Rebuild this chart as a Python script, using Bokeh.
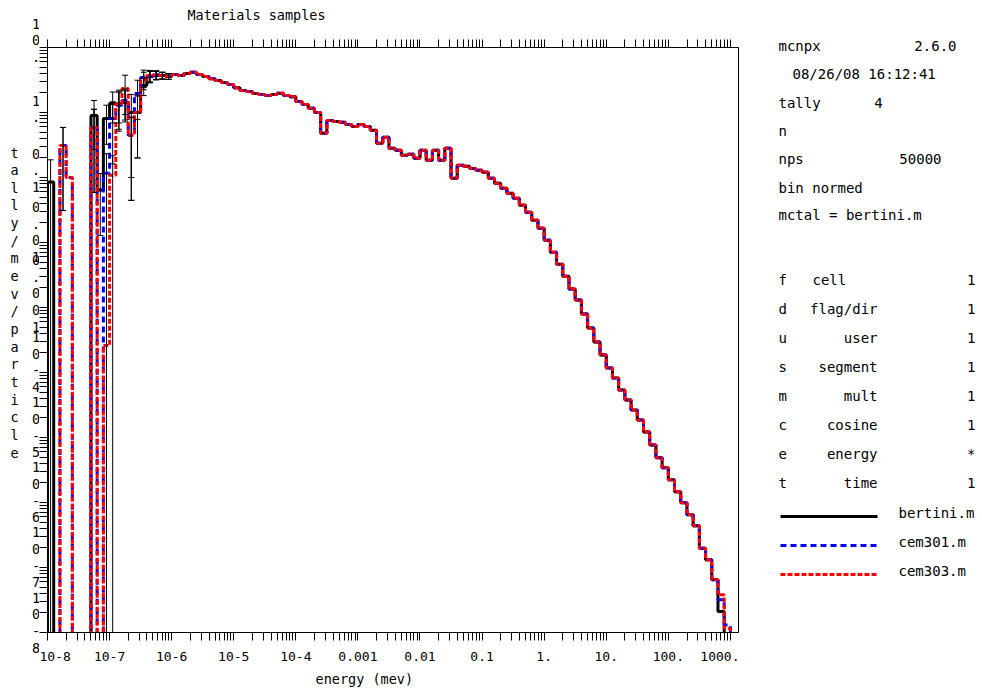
import numpy as np
from bokeh.plotting import figure
from bokeh.layouts import row, column
from bokeh.models import (FixedTicker, LogAxis, Range1d, ColumnDataSource, Title,
                          CustomJSTickFormatter)
from bokeh.core.properties import value
from bokeh.embed import file_html
from bokeh.resources import INLINE

# ---------------------------------------------------------------------------
# Tally data: neutron flux per MeV per source particle, 10 log bins / decade
# ---------------------------------------------------------------------------
energy_edges = 10.0 ** (np.arange(-80, 31) / 10.0)      # MeV, 1e-8 .. 1e3

bertini = [
    0.085, 0, 0, 0, 0, 0, 0, 0.90, 0.064, 0.81,
    1.38, 1.38, 1.43, 1.0, 1.0, 2.60, 3.58, 3.72, 3.72, 3.58,
    3.84, 3.72, 3.98, 4.15, 3.84, 3.58, 3.30, 3.11, 2.90, 2.70,
    2.40, 2.18, 2.10, 1.96, 1.90, 1.83, 1.90, 1.98, 1.83, 1.75,
    1.48, 1.33, 1.16, 1.0, 0.478, 0.756, 0.73, 0.705, 0.656, 0.611,
    0.656, 0.611, 0.531, 0.335, 0.415, 0.281, 0.262, 0.219, 0.227, 0.197,
    0.262, 0.184, 0.262, 0.184, 0.281, 0.0973, 0.154, 0.149, 0.138, 0.129,
    0.120, 0.0973, 0.0815, 0.0683, 0.0572, 0.0479, 0.0374, 0.0292, 0.0220, 0.0166,
    0.0108, 0.0071, 0.00464, 0.00303, 0.00192, 0.0013, 0.000793, 0.000483, 0.000294, 0.000186,
    1.17e-4, 8.24e-5, 5.38e-5, 3.78e-5, 2.65e-5, 1.86e-5, 1.22e-5, 7.69e-6, 4.86e-6, 3.41e-6,
    2.23e-6, 1.46e-6, 9.89e-7, 6.47e-7, 4.39e-7, 1.97e-7, 1.32e-7, 6.5e-8, 2.1e-8, 0,
]

cem301 = [
    0, 0, 0.31, 0.10, 0, 0, 0, 0.59, 0, 0.116,
    0.81, 1.29, 1.53, 0.445, 1.96, 3.45, 3.60, 3.80, 3.70, 3.60,
    3.84, 3.72, 3.98, 4.15, 3.84, 3.58, 3.30, 3.11, 2.90, 2.70,
    2.40, 2.18, 2.10, 1.96, 1.90, 1.83, 1.90, 1.98, 1.83, 1.75,
    1.48, 1.33, 1.16, 1.0, 0.478, 0.756, 0.73, 0.705, 0.656, 0.611,
    0.656, 0.611, 0.531, 0.335, 0.415, 0.281, 0.262, 0.219, 0.227, 0.197,
    0.262, 0.184, 0.262, 0.184, 0.281, 0.0973, 0.154, 0.149, 0.138, 0.129,
    0.120, 0.0973, 0.0815, 0.0683, 0.0572, 0.0479, 0.0374, 0.0292, 0.0220, 0.0166,
    0.0108, 0.0071, 0.00464, 0.00303, 0.00192, 0.0013, 0.000793, 0.000483, 0.000294, 0.000186,
    1.17e-4, 8.24e-5, 5.38e-5, 3.78e-5, 2.65e-5, 1.86e-5, 1.22e-5, 7.69e-6, 4.86e-6, 3.41e-6,
    2.23e-6, 1.46e-6, 9.89e-7, 6.47e-7, 4.39e-7, 1.97e-7, 1.32e-7, 6.5e-8, 3.2e-8, 1.3e-8,
]

cem303 = [
    0, 0, 0.31, 0.10, 0, 0, 0, 0.59, 0, 2.6e-4,
    0.108, 1.38, 2.34, 0.445, 1.0, 3.20, 3.70, 3.80, 3.70, 3.60,
    3.84, 3.72, 3.98, 4.15, 3.84, 3.58, 3.30, 3.11, 2.90, 2.70,
    2.40, 2.18, 2.10, 1.96, 1.90, 1.83, 1.90, 1.98, 1.83, 1.75,
    1.48, 1.33, 1.16, 1.0, 0.478, 0.756, 0.73, 0.705, 0.656, 0.611,
    0.656, 0.611, 0.531, 0.335, 0.415, 0.281, 0.262, 0.219, 0.227, 0.197,
    0.262, 0.184, 0.262, 0.184, 0.281, 0.0973, 0.154, 0.149, 0.138, 0.129,
    0.120, 0.0973, 0.0815, 0.0683, 0.0572, 0.0479, 0.0374, 0.0292, 0.0220, 0.0166,
    0.0108, 0.0071, 0.00464, 0.00303, 0.00192, 0.0013, 0.000793, 0.000483, 0.000294, 0.000186,
    1.17e-4, 8.24e-5, 5.38e-5, 3.78e-5, 2.65e-5, 1.86e-5, 1.22e-5, 7.69e-6, 4.86e-6, 3.41e-6,
    2.23e-6, 1.46e-6, 9.89e-7, 6.47e-7, 4.39e-7, 1.97e-7, 1.32e-7, 6.5e-8, 3.8e-8, 1.15e-8,
]

# relative errors of the first 20 bins (the rest are too small to show)
bertini_relerr = [1.2, 0, 0, 0, 0, 0, 0, 0.7, 0.8, 0.6,
                  0.5, 0.6, 0.5, 0.9, 0.8, 0.3, 0.2, 0.15, 0.12, 0.1]
cem301_relerr = [0, 0, 0.9, 0, 0, 0, 0, 0.9, 0, 1.0,
                 0.8, 0.6, 0.5, 0.9, 0.6, 0.3, 0.2, 0.15, 0.12, 0.1]
cem303_relerr = [0, 0, 0.9, 0, 0, 0, 0, 0.9, 0, 0,
                 1.0, 0.5, 0.6, 0.9, 0.8, 0.3, 0.2, 0.15, 0.12, 0.1]

x_decades = [1e-8, 1e-7, 1e-6, 1e-5, 1e-4, 1e-3, 1e-2, 1e-1, 1.0, 10.0, 100.0, 1000.0]
x_tick_text = ["10-8", "10-7", "10-6", "10-5", "10-4", "0.001", "0.01", "0.1",
               "1.", "10.", "100.", "1000."]
y_decades = [10.0, 1.0, 0.1, 0.01, 1e-3, 1e-4, 1e-5, 1e-6, 1e-7, 1e-8]
y_tick_text = ["10.", "1.", "0.1", "0.01", "0.001", "10-4", "10-5", "10-6", "10-7", "10-8"]
y_title = "tally/mev/particle"
plot_title = "Materials samples"

info_lines = [  # (text, x, y, align) in page pixels
    ("mcnpx", 778, 45, "left"), ("2.6.0", 956, 45, "right"),
    ("08/26/08 16:12:41", 792, 73, "left"),
    ("tally", 778, 102, "left"), ("4", 878, 102, "center"),
    ("n", 778, 130, "left"),
    ("nps", 778, 158, "left"), ("50000", 941, 158, "right"),
    ("bin normed", 778, 187, "left"),
    ("mctal = bertini.m", 778, 214, "left"),
]
bin_rows = [("f", "cell", "1"), ("d", "flag/dir", "1"), ("u", "user", "1"),
            ("s", "segment", "1"), ("m", "mult", "1"), ("c", "cosine", "1"),
            ("e", "energy", "*"), ("t", "time", "1")]

# ---------------------------------------------------------------------------
H = 691
LEFT_W, MAIN_W, RIGHT_W = 39, 700, 243
TITLE_H = 36                     # strip above the main plot holding its title
FT, FB = 47, 633                 # top / bottom of the plotting box
DEC_PX = (FB - FT) / 9.0         # pixels per y decade (9 decades shown)
MONO = "DejaVu Sans Mono"
FLOOR = 1e-14                    # empty bins fall off the bottom

LINE_STYLES = [dict(line_color="black", line_width=3),
               dict(line_color="#0000ff", line_width=3, line_dash="6 4"),
               dict(line_color="#ff0000", line_width=3, line_dash="5 2")]

# ---------------------------- main plot -----------------------------------
p = figure(width=MAIN_W, height=H - TITLE_H, x_axis_type="log", y_axis_type="log",
           x_range=Range1d(1e-8, 1.35e3), y_range=Range1d(1e-8, 10.0),
           output_backend="svg", toolbar_location=None,
           min_border_left=8, min_border_right=1,
           min_border_top=FT - TITLE_H, min_border_bottom=H - FB)
p.background_fill_color = "white"
p.border_fill_color = "white"
p.outline_line_color = "black"
p.grid.visible = False


def minor_ticks(decades):
    lo, hi = min(decades), max(decades)
    return [m * d for d in decades for m in range(2, 10) if lo <= m * d <= hi * 1.35]


xticker = FixedTicker(ticks=x_decades, minor_ticks=minor_ticks(x_decades))
yticker = FixedTicker(ticks=y_decades, minor_ticks=minor_ticks(y_decades))
blank = CustomJSTickFormatter(code="return ''")


def style_axis(ax, ticker, hide_labels):
    ax.ticker = ticker
    ax.axis_line_color = "black"
    ax.major_tick_line_color = "black"
    ax.minor_tick_line_color = "black"
    ax.major_tick_in = 0
    ax.major_tick_out = 8
    ax.minor_tick_in = 0
    ax.minor_tick_out = 8
    if hide_labels:
        ax.formatter = blank
        ax.major_label_text_font_size = "2px"
        ax.major_label_standoff = 0


style_axis(p.xaxis[0], xticker, False)
p.xaxis.major_label_overrides = dict(zip(x_decades, x_tick_text))
p.xaxis.major_label_text_font = MONO
p.xaxis.major_label_text_font_size = "13px"
p.xaxis.major_label_text_color = "black"
p.xaxis.major_label_standoff = 11
style_axis(p.yaxis[0], yticker, True)
top_axis = LogAxis()
style_axis(top_axis, xticker, True)
p.add_layout(top_axis, "above")

p.add_layout(Title(text="energy (mev)", align="left", offset=268,
                   text_font=MONO, text_font_size="13.5px", text_font_style="normal",
                   text_color="black"),
             "below")


def steps(values):
    v = np.where(np.asarray(values, dtype=float) > 0, values, FLOOR)
    xs = np.concatenate([[energy_edges[0]], np.repeat(energy_edges, 2)[1:-1], [energy_edges[-1]]])
    ys = np.concatenate([[FLOOR], np.repeat(v, 2), [FLOOR]])
    return xs, ys


series = [("bertini.m", bertini, bertini_relerr),
          ("cem301.m", cem301, cem301_relerr),
          ("cem303.m", cem303, cem303_relerr)]

for (name, vals, rel), style in zip(series, LINE_STYLES):
    xs, ys = steps(vals)
    p.line(xs, ys, **style)

# one-sigma error bars at bin centres
centres = np.sqrt(energy_edges[:-1] * energy_edges[1:])
for name, vals, rel in series:
    n = len(rel)
    v = np.asarray(vals[:n], dtype=float)
    e = np.asarray(rel, dtype=float)
    keep = (v > 0) & (e > 0)
    lo = np.where(v * (1 - e) > 0, v * (1 - e), FLOOR)
    hi = v * (1 + e)
    src = ColumnDataSource(dict(x=centres[:n][keep], lo=lo[keep], hi=hi[keep]))
    p.segment(x0="x", y0="lo", x1="x", y1="hi", source=src, line_color="black", line_width=1)
    p.scatter(x="x", y="hi", source=src, marker="dash", size=6, line_color="black", line_width=1)
    p.scatter(x="x", y="lo", source=src, marker="dash", size=6, line_color="black", line_width=1)


def side_figure(width, height=H, **kw):
    f = figure(width=width, height=height, x_axis_location=None, y_axis_location=None,
               min_border=0, output_backend="svg", toolbar_location=None, **kw)
    f.outline_line_color = None
    f.grid.visible = False
    f.border_fill_color = "white"
    return f


# the side strips keep their own full-size frames
can_free = "frame_align" in p.properties()

# ------------------------------ title strip -------------------------------
top = side_figure(MAIN_W, TITLE_H, x_range=Range1d(LEFT_W, LEFT_W + MAIN_W),
                  y_range=Range1d(TITLE_H, 0))
top.text(x=[256], y=[14], text=[plot_title], text_font=value(MONO),
         text_font_size=value("13.5px"), text_color="black",
         text_align=value("center"), text_baseline=value("middle"))

# ---------------------- left strip: stacked y labels ----------------------
if can_free:
    left_y = Range1d(10 ** (-8 - (H - FB) / DEC_PX), 10 ** (1 + FT / DEC_PX))
else:
    left_y = Range1d(1e-8, 10.0)
left = side_figure(LEFT_W, x_range=Range1d(0, LEFT_W), y_axis_type="log", y_range=left_y)

chars, cy, cx, coff = [], [], [], []
for d, t in zip(y_decades, y_tick_text):
    n = len(t)
    for i, ch in enumerate(t):
        chars.append(ch)
        cy.append(d)
        cx.append(35.5)
        coff.append(-12 * (n - 1) + 16.7 * i)
for i, ch in enumerate(y_title):
    chars.append(ch)
    cy.append(y_decades[0])
    cx.append(14)
    coff.append(152 + 17.65 * i - FT)
left.text(x="x", y="y", text="t", y_offset="off",
          source=ColumnDataSource(dict(x=cx, y=cy, t=chars, off=coff)),
          text_font=value(MONO), text_font_size=value("13.5px"), text_color="black",
          text_align=value("center"), text_baseline=value("middle"))

# ------------------- right strip: run information + key ------------------
x0 = MAIN_W + LEFT_W
right = side_figure(RIGHT_W, x_range=Range1d(x0, x0 + RIGHT_W),
                    y_range=Range1d(H, 0) if can_free else Range1d(FB, FT))

txt, tx, ty, ta = [], [], [], []
for text, x, y, align in info_lines:
    txt.append(text); tx.append(x); ty.append(y); ta.append(align)
for i, (letter, label, val) in enumerate(bin_rows):
    y = 279 + 29 * i
    txt += [letter, label, val]
    tx += [778, 812 if label == "cell" else 877, 975]
    ty += [y, y, y]
    ta += ["left", "left" if label == "cell" else "right", "right"]
for i, (name, vals, rel) in enumerate(series):
    txt.append(name); tx.append(898); ty.append(512 + 29 * i); ta.append("left")
right.text(x="x", y="y", text="t", text_align="a",
           source=ColumnDataSource(dict(x=tx, y=ty, t=txt, a=ta)),
           text_font=value(MONO), text_font_size=value("14px"), text_color="black",
           text_baseline=value("middle"))
for i, style in enumerate(LINE_STYLES):
    right.line([780, 877], [516 + 29 * i, 516 + 29 * i], **style)

if can_free:
    for f in (left, right, top):
        f.frame_align = False

layout = row(left, column(top, p, spacing=0), right, spacing=0)
open("out.html", "w").write(file_html(layout, INLINE))
